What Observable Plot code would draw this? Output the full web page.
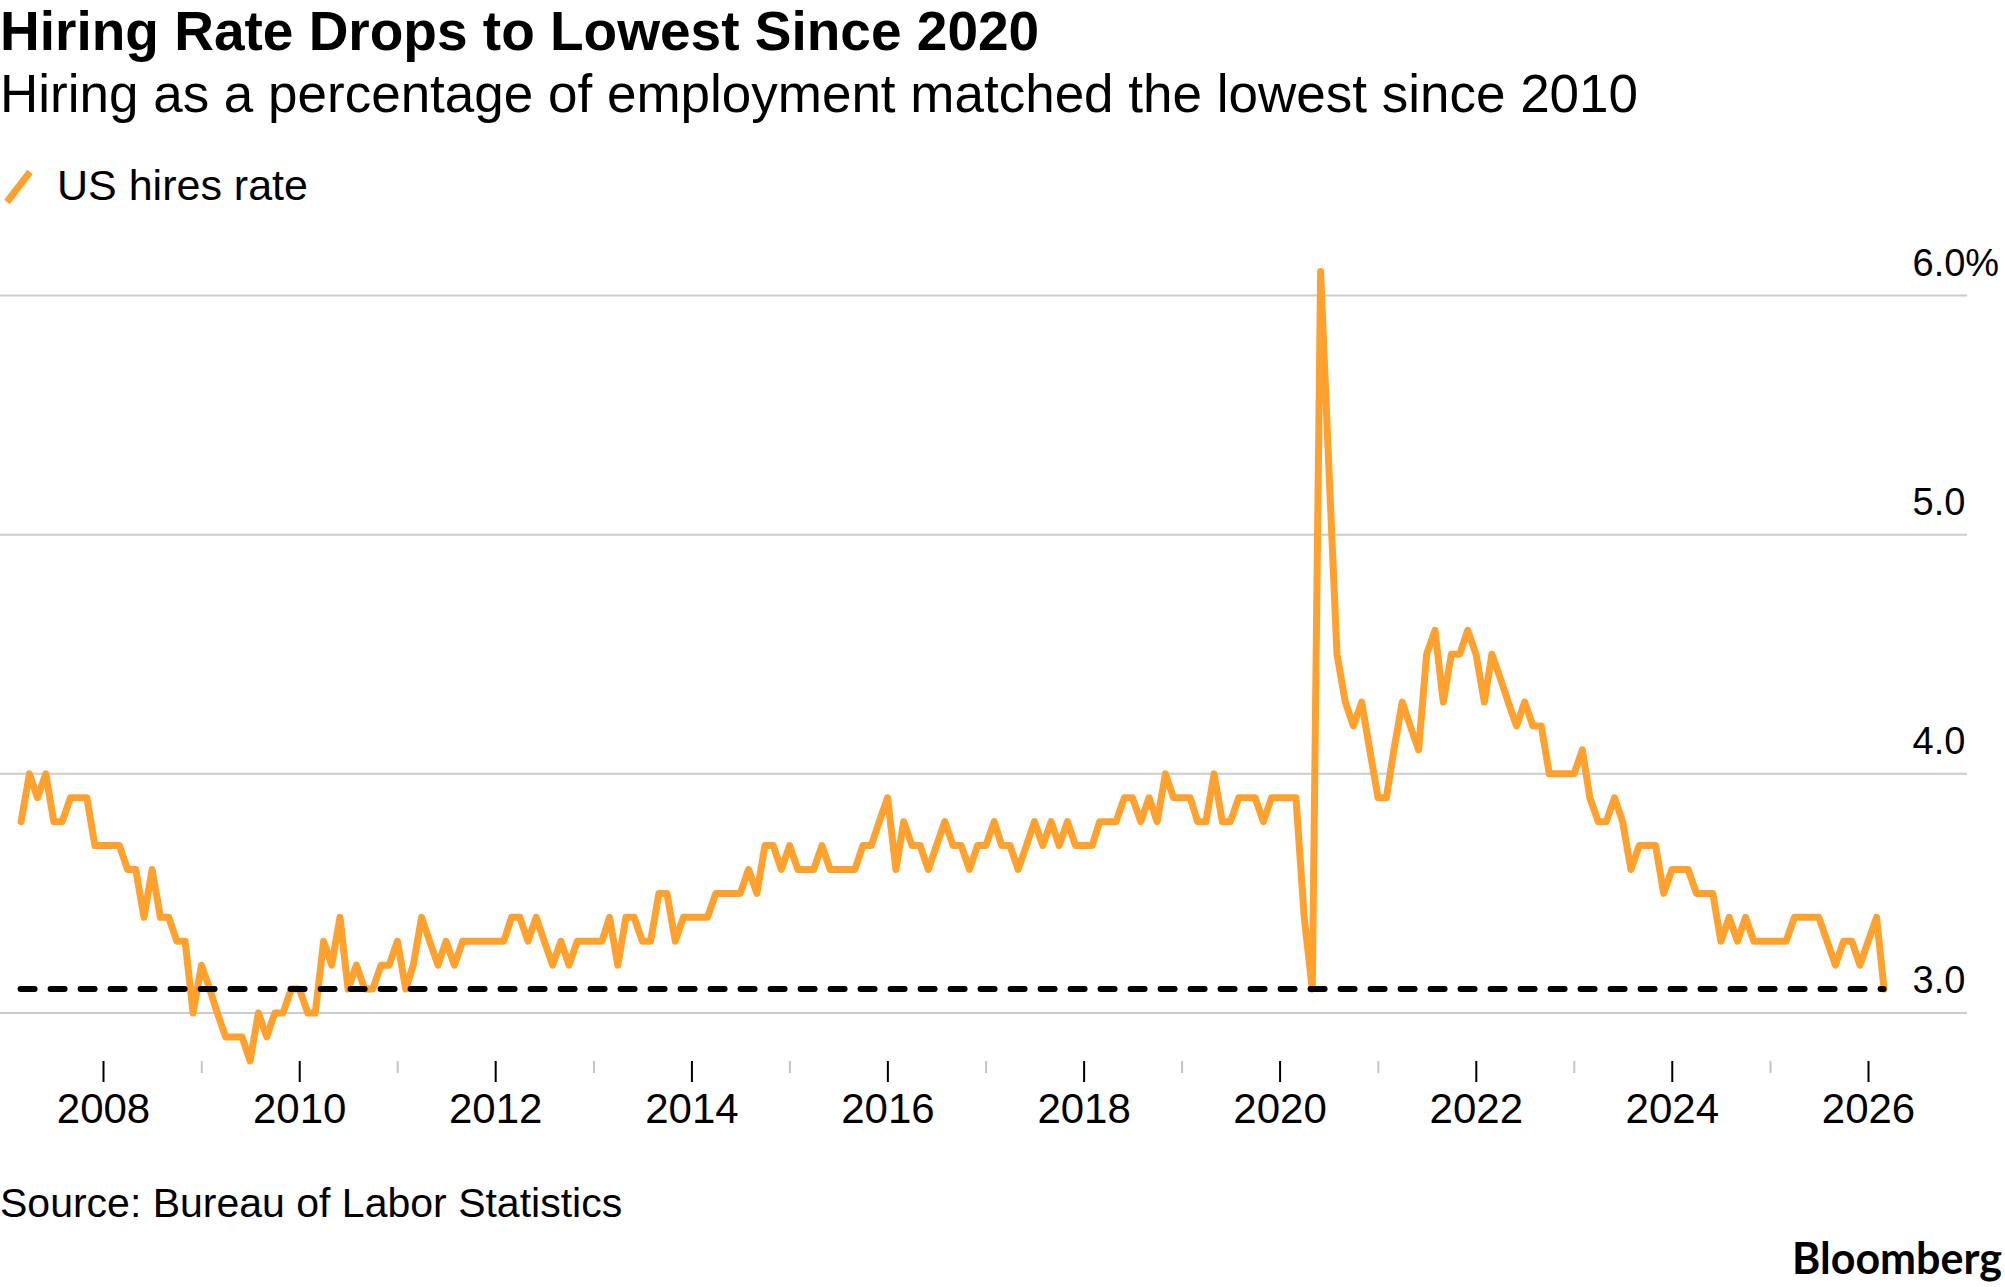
<!DOCTYPE html>
<html>
<head>
<meta charset="utf-8">
<script src="https://cdn.jsdelivr.net/npm/d3@7"></script>
<script src="https://cdn.jsdelivr.net/npm/@observablehq/plot@0.6"></script>
<style>
  html, body { margin: 0; padding: 0; background: #ffffff; }
  body { width: 2005px; height: 1287px; position: relative; overflow: hidden;
         font-family: "Liberation Sans", Arial, Helvetica, sans-serif; color: #000; }
  .abs { position: absolute; white-space: nowrap; line-height: 1; }
  #title { left: 0; top: 4px; font-size: 55px; font-weight: bold; }
  #subtitle { left: 0; top: 67px; font-size: 53px; }
  #legend { left: 0; top: 160px; height: 50px; }
  #legend svg { position: absolute; left: 0; top: 0; }
  #legend span { position: absolute; left: 57px; top: 4px; font-size: 43px; }
  #chart { position: absolute; left: 0; top: 230px; }
  #source { left: 0; top: 1183px; font-size: 41px; }
  #brand { right: 3px; top: 1236px; font-size: 43px; font-weight: bold; font-family: Lato, "Liberation Sans", sans-serif; }
</style>
</head>
<body>
<div id="title" class="abs">Hiring Rate Drops to Lowest Since 2020</div>
<div id="subtitle" class="abs">Hiring as a percentage of employment matched the lowest since 2010</div>
<div id="legend" class="abs">
  <svg width="40" height="50"><line x1="7" y1="42" x2="30" y2="12" stroke="#ffa12e" stroke-width="7"/></svg>
  <span>US hires rate</span>
</div>
<div id="chart"></div>
<div id="source" class="abs">Source: Bureau of Labor Statistics</div>
<div id="brand" class="abs">Bloomberg</div>
<script>
// First month of the series (monthly data, Feb 2007 onward)
const firstMonth = [2007, 2];
// US hires rate, % of employment, monthly
const hiresRate = [
  3.8, 4.0, 3.9, 4.0, 3.8, 3.8, 3.9, 3.9, 3.9, 3.7, 3.7,             // 2007 Feb-Dec
  3.7, 3.7, 3.6, 3.6, 3.4, 3.6, 3.4, 3.4, 3.3, 3.3, 3.0, 3.2,        // 2008
  3.1, 3.0, 2.9, 2.9, 2.9, 2.8, 3.0, 2.9, 3.0, 3.0, 3.1, 3.1,        // 2009
  3.0, 3.0, 3.3, 3.2, 3.4, 3.1, 3.2, 3.1, 3.1, 3.2, 3.2, 3.3,        // 2010
  3.1, 3.2, 3.4, 3.3, 3.2, 3.3, 3.2, 3.3, 3.3, 3.3, 3.3, 3.3,        // 2011
  3.3, 3.4, 3.4, 3.3, 3.4, 3.3, 3.2, 3.3, 3.2, 3.3, 3.3, 3.3,        // 2012
  3.3, 3.4, 3.2, 3.4, 3.4, 3.3, 3.3, 3.5, 3.5, 3.3, 3.4, 3.4,        // 2013
  3.4, 3.4, 3.5, 3.5, 3.5, 3.5, 3.6, 3.5, 3.7, 3.7, 3.6, 3.7,        // 2014
  3.6, 3.6, 3.6, 3.7, 3.6, 3.6, 3.6, 3.6, 3.7, 3.7, 3.8, 3.9,        // 2015
  3.6, 3.8, 3.7, 3.7, 3.6, 3.7, 3.8, 3.7, 3.7, 3.6, 3.7, 3.7,        // 2016
  3.8, 3.7, 3.7, 3.6, 3.7, 3.8, 3.7, 3.8, 3.7, 3.8, 3.7, 3.7,        // 2017
  3.7, 3.8, 3.8, 3.8, 3.9, 3.9, 3.8, 3.9, 3.8, 4.0, 3.9, 3.9,        // 2018
  3.9, 3.8, 3.8, 4.0, 3.8, 3.8, 3.9, 3.9, 3.9, 3.8, 3.9, 3.9,        // 2019
  3.9, 3.9, 3.4, 3.1, 6.1, 5.3, 4.5, 4.3, 4.2, 4.3, 4.1, 3.9,        // 2020
  3.9, 4.1, 4.3, 4.2, 4.1, 4.5, 4.6, 4.3, 4.5, 4.5, 4.6, 4.5,        // 2021
  4.3, 4.5, 4.4, 4.3, 4.2, 4.3, 4.2, 4.2, 4.0, 4.0, 4.0, 4.0,        // 2022
  4.1, 3.9, 3.8, 3.8, 3.9, 3.8, 3.6, 3.7, 3.7, 3.7, 3.5, 3.6,        // 2023
  3.6, 3.6, 3.5, 3.5, 3.5, 3.3, 3.4, 3.3, 3.4, 3.3, 3.3, 3.3,        // 2024
  3.3, 3.3, 3.4, 3.4, 3.4, 3.4, 3.3, 3.2, 3.3, 3.3, 3.2, 3.3,        // 2025
  3.4, 3.1                                                           // 2026 Jan-Feb
];
// Reference level (dashed line): the April 2020 low
const lowLevel = 3.1;
// Axis ticks
const yTicks = [3, 4, 5, 6];
const yTickLabels = ["3.0", "4.0", "5.0", "6.0%"];
const majorYears = [2008, 2010, 2012, 2014, 2016, 2018, 2020, 2022, 2024, 2026];
const minorYears = [2009, 2011, 2013, 2015, 2017, 2019, 2021, 2023, 2025];

// Each monthly value is placed at the end of its month
const monthStart = new Date(Date.UTC(firstMonth[0], firstMonth[1] - 1, 1));
const series = hiresRate.map((v, i) => ({
  date: d3.utcDay.offset(d3.utcMonth.offset(monthStart, i + 1), -1),
  rate: v
}));
const firstDate = series[0].date;
const lastDate = series[series.length - 1].date;
const yearDate = y => new Date(Date.UTC(y, 0, 1));

const chart = Plot.plot({
  width: 2005,
  height: 920,
  marginLeft: 0,
  marginRight: 38,
  marginTop: 0,
  marginBottom: 89,
  x: { type: "utc", domain: [yearDate(2008), yearDate(2026)], range: [103, 1868], label: null },
  y: { domain: [3, 6], range: [782.5, 65], axis: null, label: null },
  style: { fontFamily: '"Liberation Sans", Arial, sans-serif', background: "transparent", color: "#000", overflow: "visible" },
  marks: [
    Plot.ruleY(yTicks, { y: d => d, stroke: "#cccccc", strokeWidth: 2 }),
    Plot.axisX(minorYears.map(yearDate), {
      anchor: "bottom", tickSize: 12, stroke: "#c4c4c4", strokeWidth: 2,
      tickFormat: () => "", label: null
    }),
    Plot.axisX(majorYears.map(yearDate), {
      anchor: "bottom", tickSize: 21, tickPadding: 11, stroke: "#000", strokeWidth: 2,
      tickFormat: d3.utcFormat("%Y"), fontSize: 42, fill: "#000", label: null
    }),
    Plot.text(yTicks, {
      y: d => d, text: (d, i) => yTickLabels[i], frameAnchor: "right",
      textAnchor: "start", lineAnchor: "bottom", dx: -55, dy: -20, fontSize: 38, fill: "#000"
    }),
    Plot.lineY(series, {
      x: "date", y: "rate", stroke: "#ffa12e", strokeWidth: 7,
      strokeLinejoin: "round", strokeLinecap: "round"
    }),
    Plot.ruleY([lowLevel], {
      y: d => d, x1: () => firstDate, x2: () => lastDate, stroke: "#000", strokeWidth: 6,
      strokeDasharray: "14,16", strokeLinecap: "round"
    })
  ]
});
document.getElementById("chart").appendChild(chart);
</script>
</body>
</html>
